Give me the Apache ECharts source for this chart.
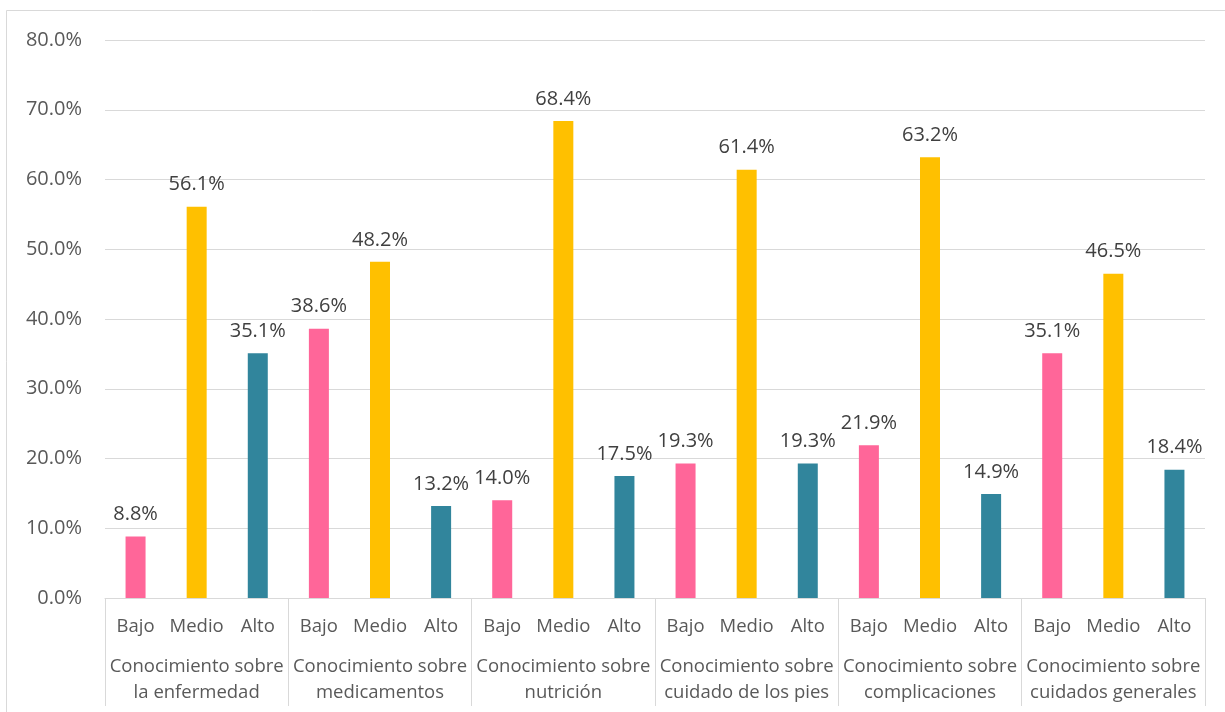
<!DOCTYPE html>
<html>
<head>
<meta charset="utf-8">
<script src="https://cdn.jsdelivr.net/npm/echarts@6/dist/echarts.min.js"></script>
<style>
  html, body { margin: 0; padding: 0; background: #fff; }
  #chart { width: 1225px; height: 712px; }
</style>
</head>
<body>
<div id="chart"></div>
<script>
// Knowledge levels within each topic
const levels = ['Bajo', 'Medio', 'Alto'];
// Topic groups (second row of the category axis)
const groups = [
  'Conocimiento sobre\nla enfermedad',
  'Conocimiento sobre\nmedicamentos',
  'Conocimiento sobre\nnutrición',
  'Conocimiento sobre\ncuidado de los pies',
  'Conocimiento sobre\ncomplicaciones',
  'Conocimiento sobre\ncuidados generales'
];
// Percentages per topic, in the order Bajo, Medio, Alto
const bajo  = [8.8, 38.6, 14.0, 19.3, 21.9, 35.1];
const medio = [56.1, 48.2, 68.4, 61.4, 63.2, 46.5];
const alto  = [35.1, 13.2, 17.5, 19.3, 14.9, 18.4];
// Y-axis range and step
const yMin = 0, yMax = 80, yStep = 10;

const levelColors = ['#FF6699', '#FFC000', '#31859C'];
const textColor = '#595959';
const fontFamily = '"Open Sans", Lato, sans-serif';
const numSize = 20;
const catSize = 18.5;

// Flatten to one bar per (topic, level)
const cats = [];
const values = [];
groups.forEach((g, i) => {
  const vals = [bajo[i], medio[i], alto[i]];
  levels.forEach((lv, j) => {
    cats.push(lv);
    values.push({ value: vals[j], itemStyle: { color: levelColors[j] } });
  });
});

const chart = echarts.init(document.getElementById('chart'));
chart.setOption({
  animation: false,
  backgroundColor: '#fff',
  textStyle: { fontFamily: fontFamily },
  graphic: [{
    type: 'rect',
    shape: { x: 6.5, y: 10.5, width: 1240, height: 720 },
    style: { fill: 'none', stroke: '#d9d9d9', lineWidth: 1 },
    silent: true
  }],
  grid: { left: 105, right: 20, top: 40, bottom: 114, containLabel: false },
  xAxis: [
    {
      type: 'category',
      data: cats,
      position: 'bottom',
      axisLine: { show: true, lineStyle: { color: '#d9d9d9', width: 1 } },
      axisTick: { show: false },
      axisLabel: {
        interval: 0, color: textColor, fontSize: catSize, fontFamily: fontFamily, margin: 19
      }
    },
    {
      type: 'category',
      data: groups,
      position: 'bottom',
      axisLine: { show: false },
      axisTick: { show: true, length: 108, interval: 0, lineStyle: { color: '#d9d9d9', width: 1 } },
      axisLabel: {
        interval: 0, color: textColor, fontSize: catSize, fontFamily: fontFamily,
        margin: 56, lineHeight: 26, align: 'center'
      },
      splitLine: { show: false }
    }
  ],
  yAxis: {
    type: 'value',
    min: yMin, max: yMax, interval: yStep,
    axisLine: { show: false },
    axisTick: { show: false },
    splitLine: { lineStyle: { color: '#d9d9d9', width: 1 } },
    axisLabel: {
      color: textColor, fontSize: numSize, fontFamily: fontFamily, margin: 23,
      formatter: v => v.toFixed(1) + '%'
    }
  },
  series: [{
    type: 'bar',
    xAxisIndex: 0,
    data: values,
    barWidth: 20,
    label: {
      show: true, position: 'top', distance: 12,
      color: '#404040', fontSize: numSize, fontFamily: fontFamily,
      formatter: p => p.value.toFixed(1) + '%'
    }
  }]
});
</script>
</body>
</html>
